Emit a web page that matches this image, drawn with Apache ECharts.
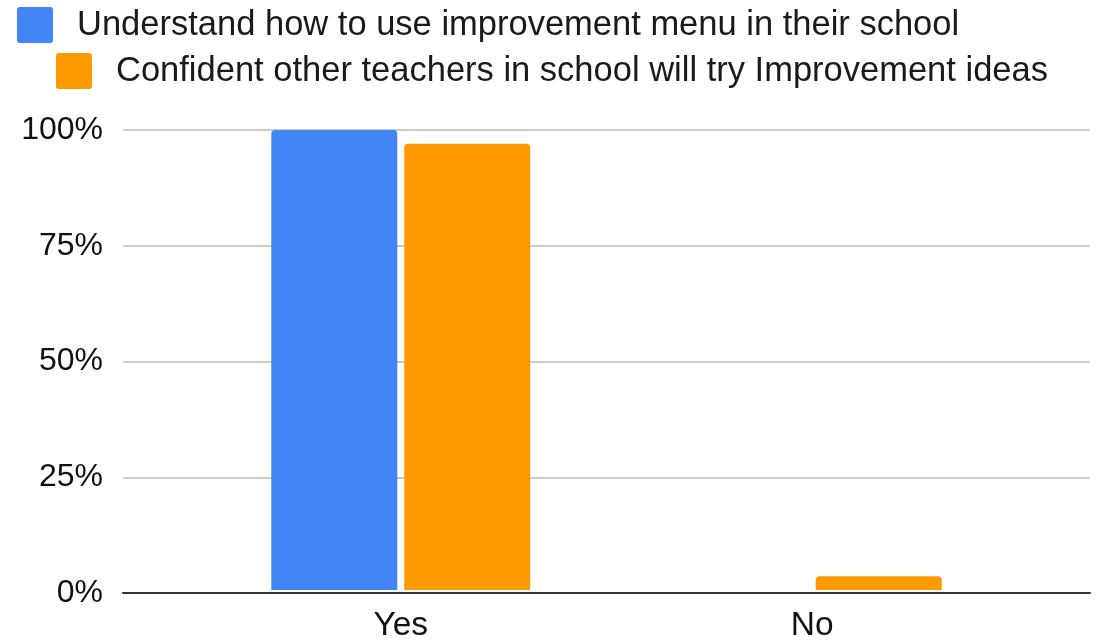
<!DOCTYPE html>
<html><head><meta charset="utf-8">
<script src="https://cdn.jsdelivr.net/npm/echarts@6/dist/echarts.min.js"></script>
<style>html,body{margin:0;padding:0;background:#fff}#c{width:1096px;height:643px}</style>
</head><body><div id="c"></div>
<script>
const categories = ['Yes', 'No'];
const seriesNames = ['Understand how to use improvement menu in their school', 'Confident other teachers in school will try Improvement ideas'];
const understandValues = [1.00, 0.00];
const confidentValues = [0.97, 0.03];
const yTicks = [0, 0.25, 0.5, 0.75, 1];
const colors = ['#4285F4', '#FF9900'];

const chart = echarts.init(document.getElementById('c'));
const font = 'Liberation Sans, Arial, sans-serif';
const legendText = { fontFamily: font, fontSize: 34.5, color: '#1a1a1a', padding: [3, 0, 0, 19] };
const iconPath = 'path://M3,0 H33 Q36,0 36,3 V33 Q36,36 33,36 H3 Q0,36 0,33 V3 Q0,0 3,0 Z';
chart.setOption({
  animation: false,
  legend: [
    { data: [seriesNames[0]], left: 12, top: 2, padding: 5, itemWidth: 36, itemHeight: 36,
      icon: iconPath, textStyle: legendText },
    { data: [seriesNames[1]], left: 51, top: 48, padding: 5, itemWidth: 36, itemHeight: 36,
      icon: iconPath, textStyle: legendText }
  ],
  grid: [
    { left: 123, right: 6, top: 130, bottom: 50 },
    { left: 195, right: 78, top: 130, bottom: 50 }
  ],
  xAxis: [
    { type: 'category', gridIndex: 0, data: [''], axisLine: { lineStyle: { color: '#333', width: 2 } },
      axisTick: { show: false }, axisLabel: { show: false }, z: 5 },
    { type: 'category', gridIndex: 1, data: categories, axisLine: { show: false }, axisTick: { show: false },
      axisLabel: { fontFamily: font, fontSize: 33.5, color: '#111', margin: 19 } }
  ],
  yAxis: [
    { type: 'value', gridIndex: 0, min: yTicks[0], max: yTicks[yTicks.length - 1], interval: 0.25,
      axisLabel: { fontFamily: font, fontSize: 32, color: '#111', margin: 20,
        formatter: v => Math.round(v * 100) + '%' },
      splitLine: { lineStyle: { color: '#cccccc', width: 2 } }, axisLine: { show: false }, axisTick: { show: false } },
    { type: 'value', gridIndex: 1, min: yTicks[0], max: yTicks[yTicks.length - 1], interval: 0.25, show: false }
  ],
  series: [
    { name: seriesNames[0], type: 'bar', xAxisIndex: 1, yAxisIndex: 1, data: understandValues,
      barWidth: 126, barGap: '5.5%', itemStyle: { color: colors[0], borderRadius: [4, 4, 0, 0] }, z: 3 },
    { name: seriesNames[1], type: 'bar', xAxisIndex: 1, yAxisIndex: 1, data: confidentValues,
      barWidth: 126, barGap: '5.5%', itemStyle: { color: colors[1], borderRadius: [4, 4, 0, 0] }, z: 3 }
  ]
});
</script></body></html>
